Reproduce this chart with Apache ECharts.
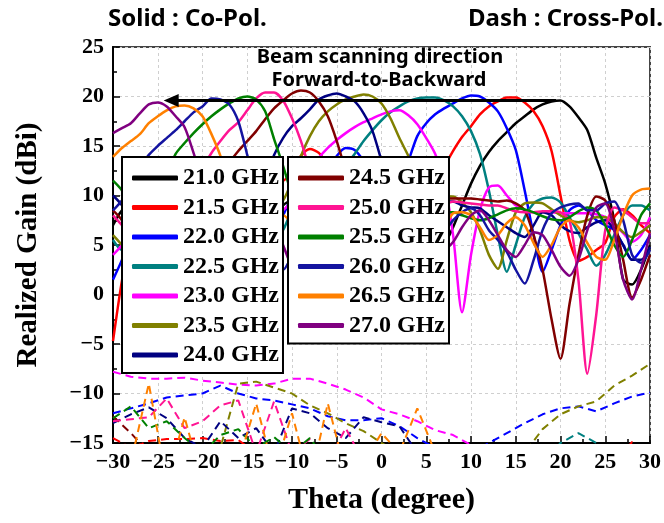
<!DOCTYPE html>
<html><head><meta charset="utf-8">
<script src="https://cdn.jsdelivr.net/npm/echarts@6/dist/echarts.min.js"></script>
<style>html,body{margin:0;padding:0;background:#fff}#c{width:664px;height:523px}</style>
</head><body><div id="c"></div>
<script>
// ---- data ----
const thetaCo = [-30,-29,-28,-27,-26,-25,-24,-23,-22,-21,-20,-19,-18,-17,-16,-15,-14,-13,-12,-11,-10,-9,-8,-7,-6,-5,-4,-3,-2,-1,0,1,2,3,4,5,6,7,8,9,10,11,12,13,14,15,16,17,18,19,20,21,22,23,24,25,26,27,28,29,30];
const thetaX = [-30,-28,-26,-24,-22,-20,-18,-16,-14,-12,-10,-8,-6,-4,-2,0,2,4,6,8,10,12,14,16,18,20,22,24,26,28,30];

const freqNames = ['21.0 GHz','21.5 GHz','22.0 GHz','22.5 GHz','23.0 GHz','23.5 GHz','24.0 GHz','24.5 GHz','25.0 GHz','25.5 GHz','26.0 GHz','26.5 GHz','27.0 GHz'];

// Co-pol (solid), theta -30..30 step 1
const co210 = [7.0,8.5,9.0,8.0,6.0,4.5,5.5,7.5,8.5,8.0, 6.5,5.0,6.0,8.0,9.0,8.5,7.0,6.0,7.5,9.0, 9.5,9.0,8.0,7.5,8.5,9.5,9.8,9.3,8.0,6.5, 5.5,5.0,4.5,4.0,3.5,3.5,4.0,5.0,6.8,9.0, 11.2,13.0,14.4,15.5,16.4,17.3,18.0,18.7,19.2,19.5, 19.6,19.0,17.9,16.6,13.8,11.2,7.5,1.5,1.0,2.5, 5.0];
const co215 = [-4.7,1.4,6.0,9.0,10.5,10.0,8.0,5.5,4.0,5.5, 8.0,9.5,9.0,7.0,5.0,6.5,9.0,11.0,12.0,11.5, 12.5,14.0,14.7,14.3,13.0,11.0,9.0,7.5,7.0,7.5, 8.5,9.0,8.5,8.0,8.5,10.0,11.5,12.9,14.5,15.9, 17.0,18.2,19.0,19.5,19.9,19.9,19.4,18.5,17.0,14.5, 10.0,5.5,3.4,3.8,4.5,5.2,7.8,8.6,8.0,7.0, 6.2];
const co220 = [1.5,3.5,6.0,8.0,9.0,8.5,7.0,5.5,6.5,8.5, 9.5,9.0,7.5,6.0,7.0,8.5,9.0,8.0,6.5,8.0, 10.0,11.5,12.0,11.5,12.5,14.0,14.8,14.6,13.5,12.0, 10.5,10.0,11.5,13.5,16.0,17.3,18.2,18.8,19.3,19.8, 20.1,20.0,19.4,18.5,16.8,14.6,10.5,6.0,2.3,4.5, 7.0,8.5,9.0,8.5,7.5,7.0,6.5,5.0,3.5,4.5, 6.0];
const co225 = [5.5,4.5,5.0,7.0,8.0,7.5,6.0,4.5,5.5,7.5, 8.5,8.0,6.5,5.0,6.0,7.5,8.0,7.0,5.5,6.5, 8.5,9.5,9.0,8.0,9.5,11.5,13.0,14.2,15.5,16.6, 17.6,18.4,19.0,19.5,19.8,19.9,19.9,19.6,19.0,18.0, 16.5,14.2,10.5,6.0,2.3,5.0,7.8,9.2,9.7,9.8, 9.3,7.8,6.2,4.5,2.9,4.0,6.0,8.0,9.0,9.0, 8.5];
const co230 = [4.0,5.0,6.5,7.0,6.0,4.5,5.0,6.5,7.5,7.0, 5.5,4.5,6.0,7.5,8.0,7.0,6.0,7.5,8.0,8.5, 9.5,11.0,12.5,13.8,14.8,15.6,16.3,16.9,17.4,17.8, 18.2,18.5,18.6,18.1,17.2,15.8,14.2,11.5,6.0,-1.8, 4.0,8.5,10.8,11.0,10.0,9.0,8.5,8.3,8.3,8.3, 8.2,8.2,8.2,8.2,8.1,7.8,7.0,6.2,5.3,6.0, 7.8];
const co235 = [6.0,5.0,4.0,5.5,7.5,8.5,8.0,6.5,5.0,6.0, 8.0,9.0,8.5,7.0,5.5,6.5,8.5,9.5,9.0,9.5, 11.5,14.0,16.0,17.5,18.5,19.2,19.7,20.0,20.2,20.0, 19.3,17.8,15.8,14.0,12.0,10.5,10.0,9.9,9.9,9.3, 8.3,6.5,4.0,2.6,5.5,8.3,9.2,9.3,9.2,8.6, 8.0,7.5,7.3,7.5,7.8,7.8,7.2,6.3,5.8,6.3, 7.0];
const co240 = [10.0,9.0,7.0,5.0,4.0,5.5,7.5,8.5,8.0,6.0, 4.0,5.0,6.5,7.5,7.0,6.5,8.5,11.5,14.1,15.8, 17.0,17.8,18.7,19.7,20.1,20.3,20.0,19.5,18.3,16.5, 13.5,10.5,8.0,7.0,8.0,9.0,9.5,9.4,9.4,9.0, 8.8,8.7,8.0,7.4,6.8,6.2,5.8,7.0,8.3,8.0, 7.0,6.4,6.2,6.8,7.3,7.5,6.5,5.0,3.5,3.5, 4.8];
const co245 = [8.5,7.5,5.5,4.0,5.0,7.0,8.5,8.0,6.5,5.5, 7.5,9.5,11.5,13.3,14.5,15.5,16.5,17.7,18.8,19.6, 20.3,20.6,20.4,19.5,18.0,15.5,12.5,10.0,9.0,9.5, 10.0,10.0,9.8,9.6,9.5,9.6,9.7,9.7,9.7,9.7, 9.7,9.6,9.5,9.4,9.5,9.2,8.5,6.0,2.5,-2.5, -6.5,-1.0,4.0,8.0,9.9,9.5,7.5,3.5,-0.3,1.5, 4.0];
const co250 = [8.0,7.0,6.0,6.5,8.0,8.5,7.5,6.0,8.0,11.0, 12.8,14.3,15.5,16.6,17.4,18.6,19.8,20.4,20.4,19.6, 17.8,15.5,12.5,9.5,7.0,6.0,7.0,8.5,9.0,9.2, 9.0,8.8,8.8,8.9,9.0,9.0,9.0,9.1,9.4,9.3, 9.2,9.1,9.0,9.0,8.7,8.4,8.3,8.3,8.4,8.4, 8.3,7.5,1.5,-8.0,-2.0,6.5,8.8,8.5,7.8,7.2, 7.2];
const co255 = [11.5,10.5,8.5,6.5,6.0,8.5,12.0,14.2,15.3,16.3, 17.2,18.0,18.7,19.3,19.8,20.0,19.7,18.5,15.7,13.0, 10.0,7.0,5.0,6.5,8.0,8.5,7.5,6.0,6.5,8.0, 8.8,8.5,7.5,7.2,8.0,8.5,8.3,8.3,8.3,8.0, 7.7,7.5,7.7,8.1,8.5,8.7,8.6,8.3,7.9,7.6, 7.5,7.8,8.4,8.8,8.5,7.0,5.0,3.8,5.5,8.0, 9.2];
const co260 = [8.5,9.5,11.0,12.8,14.1,15.0,15.8,16.6,17.5,18.4, 19.0,19.8,19.7,19.2,17.5,14.1,10.5,7.0,4.0,2.5, 4.0,6.5,8.0,7.5,5.5,3.5,4.5,6.5,7.5,7.0, 5.0,4.0,5.5,7.5,8.5,8.0,7.0,6.5,7.5,8.3, 8.7,8.0,6.5,5.5,4.3,2.5,1.1,3.5,6.5,8.2, 8.8,9.1,9.2,8.5,8.5,9.2,9.4,7.5,4.0,3.2, 4.5];
const co265 = [13.9,14.8,15.5,16.2,17.3,18.0,18.6,19.0,19.1,18.8, 18.0,16.2,14.0,11.0,8.0,5.0,3.5,5.5,7.5,8.0, 7.0,5.0,4.0,6.0,7.5,7.8,6.5,4.5,5.0,7.0, 8.0,7.5,6.0,5.5,6.5,7.5,7.5,7.0,8.2,8.3, 8.0,6.8,5.5,6.0,7.2,7.8,7.0,5.2,3.8,5.0, 6.8,7.5,6.8,5.2,3.8,3.5,5.5,8.0,10.0,10.6, 10.7];
const co270 = [16.3,16.8,17.3,18.3,19.2,19.4,19.0,18.0,16.9,14.3, 11.5,8.5,5.5,3.0,2.5,4.5,6.5,7.5,7.0,5.0, 3.0,4.5,7.0,8.0,7.5,5.5,4.0,5.5,7.5,8.5, 8.0,6.0,4.0,5.5,7.5,8.0,6.5,4.5,5.3,6.8, 8.0,8.5,7.5,6.0,4.5,3.8,5.0,6.3,6.0,4.5, 2.8,1.9,3.5,6.5,8.8,9.2,6.5,1.5,-0.5,2.5, 6.2];

// Cross-pol (dashed), theta -30..30 step 2
const x215 = [-14.5,-15.5,-14.8,-14.6,-14.6,-14.5,-14.8,-14.7,-16,-15.5, -16,-17,-17,-17,-17,-17,-17,-17,-17,-17, -17,-17,-17,-17,-17,-17,-17,-17,-17,-14.9, -17];
const x220 = [-12,-11.5,-11,-10.4,-10.2,-10.0,-9.2,-10.0,-10.5,-10.7, -11.1,-11.5,-12.3,-12.7,-12.7,-12.5,-13.3,-14.5,-15.5,-16.5, -16,-15.0,-14.0,-13.0,-12.1,-11.5,-11.3,-11.8,-11.0,-10.3, -9.9];
const x225 = [-17,-16,-17,-17,-17,-17,-17,-17,-17,-17, -17,-17,-17,-17,-17,-17,-17,-17,-17,-17, -17,-17,-17,-17,-17,-15.0,-14.0,-15.0,-16,-17, -17];
const x230 = [-7.8,-8.3,-8.5,-8.5,-8.4,-8.7,-8.9,-9.1,-9.2,-9.0, -8.5,-8.5,-9.0,-9.6,-10.4,-11.6,-12.1,-12.8,-13.7,-14.2, -15.2,-16.5,-17.5,-18,-18,-18,-18,-18,-18,-18, -18];
const x235 = [-17,-16,-17,-16,-15.5,-17,-15.5,-9.0,-8.8,-9.4, -10.0,-11.2,-12.0,-13.0,-13.8,-15.0,-16,-17,-15.5,-17, -16,-17,-16.5,-16,-13.6,-12.1,-11.3,-10.8,-9.2,-8.2, -7.0];
const x240 = [-13.0,-12.1,-11.4,-12.5,-14.5,-15.5,-12.8,-14.5,-13.5,-16, -11.5,-12.0,-13.5,-14.5,-12.4,-12.9,-13.3,-16,-17,-17, -17,-17,-17,-17,-17,-17,-17,-17,-17,-17, -17];
const x245 = [-12.3,-14.0,-16,-17,-17,-17,-17,-17,-17,-17, -17,-17,-17,-17,-17,-17,-17,-17,-17,-17, -17,-17,-17,-17,-17,-17,-17,-17,-17,-17, -17];
const x250 = [-12.8,-12.6,-12.4,-10.5,-13.5,-12.8,-11.2,-10.7,-16,-10.8, -16,-14.6,-17,-13.5,-17,-18,-18,-18,-18,-18, -18,-18,-18,-18,-18,-18,-18,-18,-18,-18, -18];
const x255 = [-12.5,-11.3,-13.5,-12.8,-14.5,-16,-14.2,-13.6,-15.5,-14.4, -16,-14.5,-17,-18,-18,-18,-18,-18,-18,-18, -18,-18,-18,-18,-18,-18,-18,-18,-18,-18, -18];
const x265 = [-18,-17,-9.0,-19,-12.4,-19,-18,-17,-11.0,-18, -12,-19,-11.0,-18,-17,-14.0,-16,-11.5,-16,-19, -19,-19,-19,-19,-19,-19,-19,-19,-19,-19, -19];

// Beam scanning arrow (theta, gain)
const arrowFrom = [19.5, 19.6];
const arrowTo = [-23.5, 19.6];

const colors = ['#000000','#ff0000','#0000ff','#008080','#ff00ff','#808000','#000080','#800000','#ff1493','#008000','#1414a0','#ff8000','#800080'];
const coPol = [co210,co215,co220,co225,co230,co235,co240,co245,co250,co255,co260,co265,co270];
const crossPol = [[1,x215],[2,x220],[3,x225],[4,x230],[5,x235],[6,x240],[7,x245],[8,x250],[9,x255],[11,x265]];

// ---- chart ----
const chart = echarts.init(document.getElementById('c'), null, {renderer:'canvas'});
const serif = 'Liberation Serif';
const minus = v => String(v).replace('-', '\u2212');

const series = [];
crossPol.forEach(([ci, arr]) => {
  series.push({
    name: freqNames[ci] + ' X', type:'line', showSymbol:false, silent:true, z:2,
    data: thetaX.map((t,i)=>[t, arr[i]]),
    lineStyle:{color:colors[ci], width:2, type:[8,5]},
    itemStyle:{color:colors[ci]}
  });
});
coPol.forEach((arr, k) => {
  series.push({
    name: freqNames[k], type:'line', showSymbol:false, silent:true, z:3, smooth:0.25,
    data: thetaCo.map((t,i)=>[t, arr[i]]),
    lineStyle:{color:colors[k], width:2.5},
    itemStyle:{color:colors[k]}
  });
});
series.push({
  name:'arrow', type:'line', data:[], silent:true, z:5,
  markLine:{
    silent:true, symbol:['none','triangle'], symbolSize:[13,15], animation:false,
    label:{show:false},
    lineStyle:{color:'#000', width:3, type:'solid'},
    data:[[{coord:arrowFrom},{coord:arrowTo}]]
  }
});

const legendBase = {
  orient:'vertical', top:157, itemGap:5.5, itemWidth:46, itemHeight:5, icon:'roundRect',
  padding:[9,4,6,10], itemTextGap:5,
  backgroundColor:'#fff', borderColor:'#000', borderWidth:2, selectedMode:false,
  textStyle:{fontFamily:serif, fontWeight:'bold', fontSize:24, lineHeight:24, color:'#000'}
};

chart.setOption({
  animation:false,
  backgroundColor:'#fff',
  grid:{left:113, right:14, top:47, bottom:80, show:true, borderColor:'#444', borderWidth:2, backgroundColor:'transparent'},
  xAxis:{
    type:'value', min:-30, max:30, interval:5,
    name:'Theta (degree)', nameLocation:'middle', nameGap:42,
    nameTextStyle:{fontFamily:serif, fontWeight:'bold', fontSize:30, color:'#000'},
    axisLine:{show:true, onZero:false, lineStyle:{color:'#000', width:2}},
    axisTick:{show:true, inside:true, length:7, lineStyle:{color:'#000', width:1.5}},
    minorTick:{show:true, splitNumber:2, length:4, lineStyle:{color:'#000', width:1.5}},
    axisLabel:{fontFamily:serif, fontWeight:'bold', fontSize:22, color:'#000', margin:8, formatter:minus},
    splitLine:{show:true, lineStyle:{color:'#cfcfcf', width:1, type:[3,3]}}
  },
  yAxis:{
    type:'value', min:-15, max:25, interval:5,
    name:'Realized Gain (dBi)', nameLocation:'middle', nameGap:70,
    nameTextStyle:{fontFamily:serif, fontWeight:'bold', fontSize:29, color:'#000'},
    axisLine:{show:true, onZero:false, lineStyle:{color:'#000', width:2}},
    axisTick:{show:true, inside:true, length:7, lineStyle:{color:'#000', width:1.5}},
    minorTick:{show:true, splitNumber:2, length:4, lineStyle:{color:'#000', width:1.5}},
    axisLabel:{fontFamily:serif, fontWeight:'bold', fontSize:22, color:'#000', margin:9, formatter:minus},
    splitLine:{show:true, lineStyle:{color:'#cfcfcf', width:1, type:[3,3]}}
  },
  legend:[
    Object.assign({}, legendBase, {left:122, data:freqNames.slice(0,7)}),
    Object.assign({}, legendBase, {left:288, data:freqNames.slice(7)})
  ],
  graphic:[
    {type:'text', left:108, top:7, z:10, style:{text:'Solid : Co-Pol.', fontFamily:'Noto Sans', fontWeight:'bold', fontSize:24, fill:'#000'}},
    {type:'text', right:1, top:7, z:10, style:{text:'Dash : Cross-Pol.', fontFamily:'Noto Sans', fontWeight:'bold', fontSize:24, fill:'#000'}},
    {type:'text', x:380, y:57, z:10, style:{text:'Beam scanning direction', fontFamily:'Noto Sans', fontWeight:'bold', fontSize:20, fill:'#000', textAlign:'center', textVerticalAlign:'middle'}},
    {type:'text', x:379, y:80, z:10, style:{text:'Forward-to-Backward', fontFamily:'Noto Sans', fontWeight:'bold', fontSize:20, fill:'#000', textAlign:'center', textVerticalAlign:'middle'}}
  ],
  series: series
});
</script>
</body></html>
